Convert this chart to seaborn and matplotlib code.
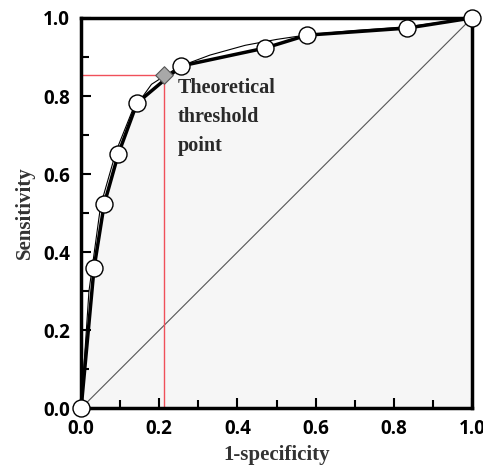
import numpy as np
import pandas as pd
import matplotlib.pyplot as plt
import seaborn as sns

# ROC points
fpr = [0.0, 0.033, 0.059, 0.095, 0.143, 0.256, 0.471, 0.578, 0.834, 1.0]
tpr = [0.0, 0.359, 0.523, 0.651, 0.782, 0.877, 0.923, 0.956, 0.974, 1.0]

# thin fitted curve (estimated)
fit_x = [0.0, 0.02, 0.05, 0.09, 0.13, 0.18, 0.25, 0.33, 0.42, 0.5, 0.58, 0.7, 0.84, 1.0]
fit_y = [0.0, 0.30, 0.52, 0.66, 0.76, 0.83, 0.875, 0.905, 0.93, 0.945, 0.957, 0.968, 0.978, 1.0]

# theoretical threshold point
thr_x = 0.212
thr_y = 0.854

sns.set_style("white")

roc = pd.DataFrame({"fpr": fpr, "tpr": tpr})

fig = plt.figure(figsize=(4.83, 4.73), dpi=100)
ax = fig.add_axes([0.168, 0.137, 0.809, 0.825])

ax.fill_between(fpr, tpr, 0, color="#f6f6f6", zorder=0)
ax.plot([0, 1], [0, 1], color="#555555", lw=0.8, zorder=1)
ax.plot(fit_x, fit_y, color="black", lw=0.8, zorder=2)

ax.plot([0, thr_x], [thr_y, thr_y], color="#f0505a", lw=1.0, zorder=1)
ax.plot([thr_x, thr_x], [0, thr_y], color="#f0505a", lw=1.0, zorder=1)

sns.lineplot(data=roc, x="fpr", y="tpr", sort=False, color="black", lw=2.5,
             ax=ax, zorder=3)
sns.scatterplot(data=roc, x="fpr", y="tpr", s=150, color="white",
                edgecolor="black", linewidth=1.0, ax=ax, zorder=5, clip_on=False)
ax.scatter([thr_x], [thr_y], marker="D", s=80, color="#a8a8a8",
           edgecolor="#555555", linewidth=0.8, zorder=6)

ax.text(0.247, 0.745, "Theoretical\nthreshold\npoint", fontsize=14.5,
        fontweight="bold", family="Liberation Serif", color="#2a2a2a",
        va="center", ha="left", linespacing=1.6)

ax.set_xlim(0, 1)
ax.set_ylim(0, 1)
ax.set_xticks(np.arange(0, 1.01, 0.2))
ax.set_yticks(np.arange(0, 1.01, 0.2))
ax.set_xticks(np.arange(0.1, 1.0, 0.2), minor=True)
ax.set_yticks(np.arange(0.1, 1.0, 0.2), minor=True)
ax.set_xticklabels([f"{v:.1f}" for v in np.arange(0, 1.01, 0.2)])
ax.set_yticklabels([f"{v:.1f}" for v in np.arange(0, 1.01, 0.2)])
ax.tick_params(which="both", direction="in", width=1.5, color="black",
               bottom=True, left=True)
ax.tick_params(which="major", length=7, pad=8)
ax.tick_params(which="minor", length=6)
for lab in ax.get_xticklabels() + ax.get_yticklabels():
    lab.set_fontfamily("Open Sans")
    lab.set_fontweight("bold")
    lab.set_fontsize(13.5)
    lab.set_color("black")

ax.set_xlabel("1-specificity", fontsize=15, fontweight="bold",
              family="Liberation Serif", color="#333333", labelpad=4)
ax.set_ylabel("Sensitivity", fontsize=15, fontweight="bold",
              family="Liberation Serif", color="#333333", labelpad=6)

for sp in ax.spines.values():
    sp.set_linewidth(2.5)
    sp.set_color("black")

fig.savefig("out.png", dpi=100)
